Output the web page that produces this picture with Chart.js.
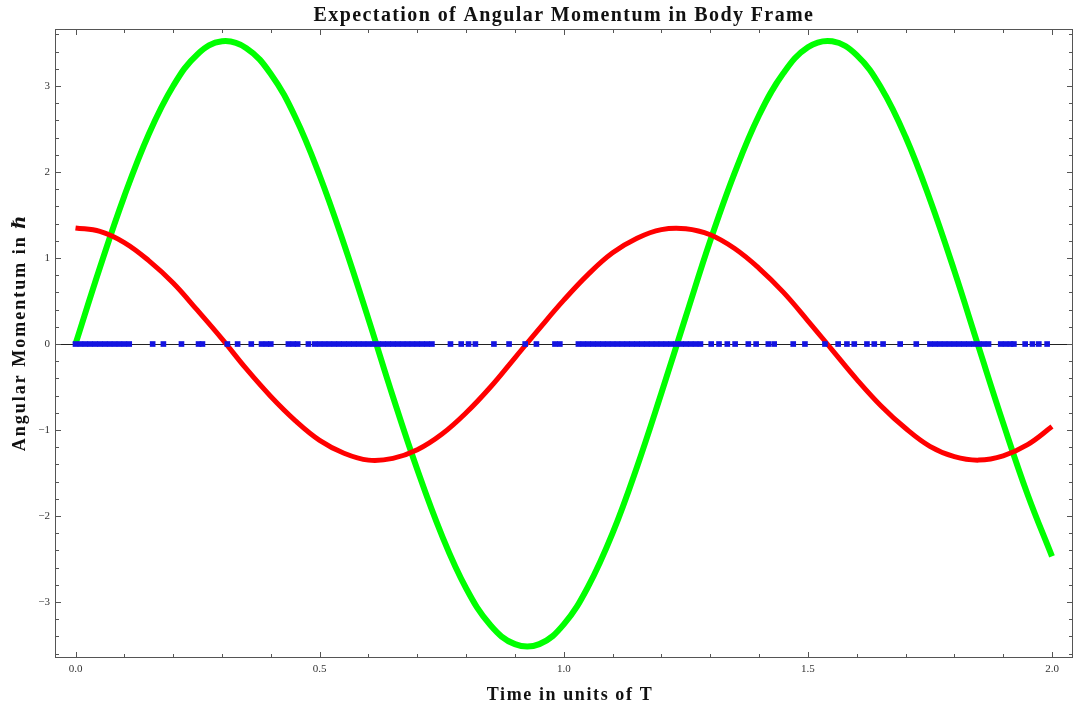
<!DOCTYPE html>
<html>
<head>
<meta charset="utf-8">
<title>Expectation of Angular Momentum in Body Frame</title>
<script src="https://cdn.jsdelivr.net/npm/chart.js@4.4.0/dist/chart.umd.min.js"></script>
<style>
  html, body { margin: 0; padding: 0; background: #fff; }
  #wrap { width: 1077px; height: 711px; }
</style>
</head>
<body>
<div id="wrap"><canvas id="angMomChart" width="1077" height="711"></canvas></div>
<script>
// time samples (units of T) for the two smooth curves
const timeGrid = [
  0.00, 0.05, 0.10, 0.15, 0.20, 0.25, 0.30, 0.35, 0.40, 0.45,
  0.50, 0.55, 0.60, 0.65, 0.70, 0.75, 0.80, 0.85, 0.90, 0.95,
  1.00, 1.05, 1.10, 1.15, 1.20, 1.25, 1.30, 1.35, 1.40, 1.45,
  1.50, 1.55, 1.60, 1.65, 1.70, 1.75, 1.80, 1.85, 1.90, 1.95, 2.00
];

// green curve
const greenValues = [
  0.00, 0.89, 1.72, 2.44, 3.00, 3.37, 3.52, 3.44, 3.14, 2.64,
  1.96, 1.16, 0.29, -0.61, -1.46, -2.22, -2.84, -3.27, -3.49, -3.49,
  -3.26, -2.82, -2.20, -1.43, -0.57, 0.32, 1.20, 1.99, 2.66, 3.15,
  3.45, 3.52, 3.36, 2.98, 2.41, 1.68, 0.85, -0.04, -0.92, -1.75, -2.47
];

// red curve
const redValues = [
  1.35, 1.31, 1.18, 0.97, 0.71, 0.39, 0.06, -0.29, -0.61, -0.89,
  -1.12, -1.27, -1.35, -1.33, -1.23, -1.05, -0.80, -0.50, -0.16, 0.18,
  0.51, 0.81, 1.06, 1.23, 1.33, 1.34, 1.27, 1.11, 0.88, 0.60,
  0.27, -0.07, -0.41, -0.72, -0.98, -1.19, -1.31, -1.35, -1.30, -1.17, -0.96
];

// blue component sits on zero; these are the times where its markers show up
const blueTimes = [
  0.00, 0.01, 0.02, 0.03, 0.04, 0.05, 0.06, 0.07, 0.08, 0.09, 0.10, 0.11,
  0.158, 0.180, 0.217, 0.252, 0.260, 0.311, 0.332, 0.360,
  0.381, 0.391, 0.400, 0.436, 0.446, 0.455, 0.477,
  0.49, 0.50, 0.51, 0.52, 0.53, 0.54, 0.55, 0.56, 0.57, 0.58, 0.59, 0.60,
  0.61, 0.62, 0.63, 0.64, 0.65, 0.66, 0.67, 0.68, 0.69, 0.70, 0.71, 0.72, 0.73,
  0.768, 0.790, 0.805, 0.819, 0.857, 0.888, 0.921, 0.944, 0.982, 0.992,
  1.03, 1.04, 1.05, 1.06, 1.07, 1.08, 1.09, 1.10, 1.11, 1.12, 1.13, 1.14, 1.15,
  1.16, 1.17, 1.18, 1.19, 1.20, 1.21, 1.22, 1.23, 1.24, 1.25, 1.26, 1.27, 1.28,
  1.302, 1.318, 1.335, 1.351, 1.378, 1.394, 1.419, 1.431, 1.470, 1.494,
  1.535, 1.562, 1.580, 1.595, 1.621, 1.636, 1.654, 1.689, 1.722,
  1.75, 1.76, 1.77, 1.78, 1.79, 1.80, 1.81, 1.82, 1.83, 1.84, 1.85, 1.86, 1.87,
  1.895, 1.905, 1.915, 1.922, 1.945, 1.960, 1.973, 1.990
];
const blueValues = blueTimes.map(() => 0);

const xMajorTicks = [0, 0.5, 1.0, 1.5, 2.0];
const yMajorTicks = [-3, -2, -1, 0, 1, 2, 3];

const chartTitle = 'Expectation of Angular Momentum in Body Frame';
const xTitle = 'Time in units of T';
const yTitle = 'Angular Momentum in \u210F';

const serif = '"Liberation Serif", "Times New Roman", "DejaVu Serif", serif';

// Mathematica style frame: box, inward ticks on all four sides, zero axis,
// and the loosely spaced bold titles
const frameTicks = {
  id: 'frameTicks',
  beforeDatasetsDraw(chart) {
    const { ctx, chartArea: a, scales: { y } } = chart;
    const y0 = Math.round(y.getPixelForValue(0)) + 0.5;
    ctx.save();
    ctx.strokeStyle = '#222';
    ctx.lineWidth = 1;
    ctx.beginPath();
    ctx.moveTo(a.left, y0);
    ctx.lineTo(a.right, y0);
    ctx.stroke();
    ctx.restore();
  },
  afterDraw(chart) {
    const { ctx, chartArea: a, scales: { x, y } } = chart;
    ctx.save();
    ctx.strokeStyle = '#555';
    ctx.lineWidth = 1;
    ctx.strokeRect(a.left + 0.5, a.top + 0.5, a.right - a.left - 1, a.bottom - a.top - 1);
    ctx.beginPath();
    for (let i = 0; i <= 20; i++) {
      const px = Math.round(x.getPixelForValue(i * 0.1)) + 0.5;
      const len = i % 5 === 0 ? 6 : 4;
      ctx.moveTo(px, a.bottom); ctx.lineTo(px, a.bottom - len);
      ctx.moveTo(px, a.top); ctx.lineTo(px, a.top + len);
    }
    for (let i = -18; i <= 18; i++) {
      const py = Math.round(y.getPixelForValue(i * 0.2)) + 0.5;
      const len = i % 5 === 0 ? 6 : 4;
      ctx.moveTo(a.left, py); ctx.lineTo(a.left + len, py);
      ctx.moveTo(a.right, py); ctx.lineTo(a.right - len, py);
    }
    ctx.stroke();

    // titles
    ctx.fillStyle = '#111';
    ctx.textAlign = 'center';
    ctx.textBaseline = 'middle';
    ctx.font = 'bold 20px ' + serif;
    ctx.letterSpacing = '1.4px';
    ctx.fillText(chartTitle, (a.left + a.right) / 2, 16);
    ctx.font = 'bold 18px ' + serif;
    ctx.letterSpacing = '1.6px';
    ctx.fillText(xTitle, (a.left + a.right) / 2 + 6, 695);
    ctx.letterSpacing = '2px';
    ctx.translate(20, (a.top + a.bottom) / 2 - 11);
    ctx.rotate(-Math.PI / 2);
    ctx.fillText(yTitle, 0, 0);
    ctx.restore();
  }
};

const config = {
  type: 'scatter',
  data: {
    datasets: [
      {
        label: 'blue',
        data: blueTimes.map((t, i) => ({ x: t, y: blueValues[i] })),
        showLine: false,
        pointStyle: 'rect',
        pointRadius: 4,
        backgroundColor: 'rgb(20, 20, 225)',
        borderWidth: 0
      },
      {
        label: 'red',
        data: timeGrid.map((t, i) => ({ x: t, y: redValues[i] })),
        showLine: true,
        borderColor: 'rgb(255, 0, 0)',
        borderWidth: 5,
        pointRadius: 0,
        tension: 0.4
      },
      {
        label: 'green',
        data: timeGrid.map((t, i) => ({ x: t, y: greenValues[i] })),
        showLine: true,
        borderColor: 'rgb(0, 255, 0)',
        borderWidth: 6,
        pointRadius: 0,
        tension: 0.4
      }
    ]
  },
  options: {
    responsive: false,
    animation: false,
    layout: { padding: { left: 0, right: 3, top: 29, bottom: 0 } },
    plugins: {
      legend: { display: false },
      tooltip: { enabled: false },
      title: { display: false }
    },
    scales: {
      x: {
        type: 'linear',
        min: -0.042,
        max: 2.043,
        grid: { display: false, drawTicks: false },
        border: { display: false },
        afterBuildTicks: s => { s.ticks = xMajorTicks.map(v => ({ value: v })); },
        afterFit: s => { s.height = 53; },
        ticks: {
          padding: 5,
          color: '#333',
          font: { family: serif, size: 11 },
          callback: v => Number(v).toFixed(1)
        }
      },
      y: {
        type: 'linear',
        min: -3.651,
        max: 3.663,
        grid: { display: false, drawTicks: false },
        border: { display: false },
        afterBuildTicks: s => { s.ticks = yMajorTicks.map(v => ({ value: v })); },
        afterFit: s => { s.width = 55; },
        ticks: {
          padding: 5,
          color: '#333',
          font: { family: serif, size: 11 },
          callback: v => String(v).replace('-', '\u2212')
        }
      }
    }
  },
  plugins: [frameTicks]
};

const angMomChart = new Chart(document.getElementById('angMomChart'), config);
</script>
</body>
</html>
